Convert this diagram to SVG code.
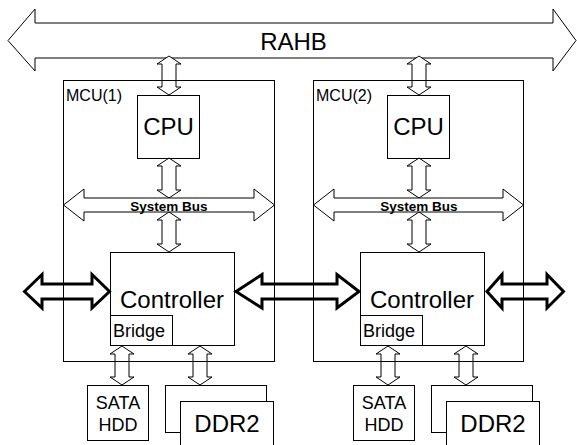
<svg xmlns="http://www.w3.org/2000/svg" width="577" height="445" viewBox="0 0 577 445">
<style>
  .ln{fill:none;stroke:#000;stroke-width:1}
  .box{fill:#fff;stroke:#000;stroke-width:1}
  .arr{fill:#fff;stroke:#000;stroke-width:1}
  .thick{fill:#fff;stroke:#000;stroke-width:3;stroke-linejoin:miter}
  text{font-family:"Liberation Sans",Arial,sans-serif;fill:#000}
  .big{font-size:24px}
  .mid{font-size:18px}
  .lbl{font-size:16px}
  .bus{font-size:13.5px;font-weight:bold}
</style>
<rect width="577" height="445" fill="#fff"/>
<g id="rahb">
  <path class="arr" d="M8,40.5 L35,9 L35,23 L553,23 L553,9 L576,40.5 L553,71 L553,58 L35,58 L35,71 Z"/>
  <text class="big" x="293.5" y="50" text-anchor="middle">RAHB</text>
</g>
<g id="connectors">
  <!-- thick external links -->
  <path class="thick" d="M24.5,291.5 L42,274.5 L42,284 L92,284 L92,274.5 L109.5,291.5 L92,308 L92,299 L42,299 L42,308 Z"/>
  <path class="thick" d="M236,291.5 L262,274.5 L262,284 L337,284 L337,274.5 L359,291.5 L337,308 L337,299 L262,299 L262,308 Z"/>
  <path class="thick" d="M487,291.5 L502,274.5 L502,284 L547,284 L547,274.5 L563.5,291.5 L547,308 L547,299 L502,299 L502,308 Z"/>
  <!-- MCU1 vertical links -->
  <path class="arr" d="M169,56 L181,64 L176,64 L176,87 L181,87 L169,95 L157,87 L162,87 L162,64 L157,64 Z"/>
  <path class="arr" d="M169,158 L181,166 L176,166 L176,190 L181,190 L169,198 L157,190 L162,190 L162,166 L157,166 Z"/>
  <path class="arr" d="M169,212 L181,220 L176,220 L176,244 L181,244 L169,252 L157,244 L162,244 L162,220 L157,220 Z"/>
  <path class="arr" d="M122,346 L134,354 L129,354 L129,377 L134,377 L122,385 L110,377 L115,377 L115,354 L110,354 Z"/>
  <path class="arr" d="M200,346 L212,354 L207,354 L207,377 L212,377 L200,385 L188,377 L193,377 L193,354 L188,354 Z"/>
  <!-- MCU2 vertical links -->
  <path class="arr" d="M419,56 L431,64 L426,64 L426,87 L431,87 L419,95 L407,87 L412,87 L412,64 L407,64 Z"/>
  <path class="arr" d="M419,158 L431,166 L426,166 L426,190 L431,190 L419,198 L407,190 L412,190 L412,166 L407,166 Z"/>
  <path class="arr" d="M419,212 L431,220 L426,220 L426,244 L431,244 L419,252 L407,244 L412,244 L412,220 L407,220 Z"/>
  <path class="arr" d="M388,346 L400,354 L395,354 L395,377 L400,377 L388,385 L376,377 L381,377 L381,354 L376,354 Z"/>
  <path class="arr" d="M466,346 L478,354 L473,354 L473,377 L478,377 L466,385 L454,377 L459,377 L459,354 L454,354 Z"/>
</g>
<g id="mcu1">
  <rect class="ln" x="63.5" y="80.5" width="211" height="281"/>
  <text class="lbl" x="66" y="101">MCU(1)</text>
</g>
<g id="cpu1">
  <rect class="ln" x="137.5" y="95.5" width="62" height="63"/>
  <text class="big" x="168.5" y="135" text-anchor="middle">CPU</text>
</g>
<g id="sysbus1">
  <path class="arr" d="M63.5,205 L84,189 L84,198 L254,198 L254,189 L274.5,205 L254,221 L254,212 L84,212 L84,221 Z"/>
  <text class="bus" x="169" y="211" text-anchor="middle">System Bus</text>
</g>
<g id="controller1">
  <rect class="ln" x="110.5" y="252.5" width="124" height="93"/>
  <text class="big" x="172" y="308" text-anchor="middle">Controller</text>
</g>
<g id="bridge1">
  <rect class="ln" x="110.5" y="315.5" width="62" height="30"/>
  <text class="mid" x="113" y="337">Bridge</text>
</g>
<g id="sata1">
  <rect class="box" x="87.5" y="385.5" width="61" height="55"/>
  <text class="mid" x="118" y="409" text-anchor="middle">SATA</text>
  <text class="mid" x="118" y="431" text-anchor="middle">HDD</text>
</g>
<g id="ddr2_1">
  <rect class="box" x="165.5" y="385.5" width="101" height="47"/>
  <rect class="box" x="180.5" y="401.5" width="93" height="50"/>
  <text class="big" x="227" y="432" text-anchor="middle">DDR2</text>
</g>
<g id="mcu2">
  <rect class="ln" x="313.5" y="80.5" width="210" height="281"/>
  <text class="lbl" x="316" y="101">MCU(2)</text>
</g>
<g id="cpu2">
  <rect class="ln" x="387.5" y="95.5" width="62" height="63"/>
  <text class="big" x="418.5" y="135" text-anchor="middle">CPU</text>
</g>
<g id="sysbus2">
  <path class="arr" d="M313.5,205 L334,189 L334,198 L503,198 L503,189 L523.5,205 L503,221 L503,212 L334,212 L334,221 Z"/>
  <text class="bus" x="419" y="211" text-anchor="middle">System Bus</text>
</g>
<g id="controller2">
  <rect class="ln" x="360.5" y="252.5" width="124" height="93"/>
  <text class="big" x="422" y="308" text-anchor="middle">Controller</text>
</g>
<g id="bridge2">
  <rect class="ln" x="360.5" y="315.5" width="62" height="30"/>
  <text class="mid" x="363" y="337">Bridge</text>
</g>
<g id="sata2">
  <rect class="box" x="353.5" y="385.5" width="61" height="55"/>
  <text class="mid" x="384" y="409" text-anchor="middle">SATA</text>
  <text class="mid" x="384" y="431" text-anchor="middle">HDD</text>
</g>
<g id="ddr2_2">
  <rect class="box" x="431.5" y="385.5" width="101" height="47"/>
  <rect class="box" x="446.5" y="401.5" width="93" height="50"/>
  <text class="big" x="493" y="432" text-anchor="middle">DDR2</text>
</g>
</svg>
